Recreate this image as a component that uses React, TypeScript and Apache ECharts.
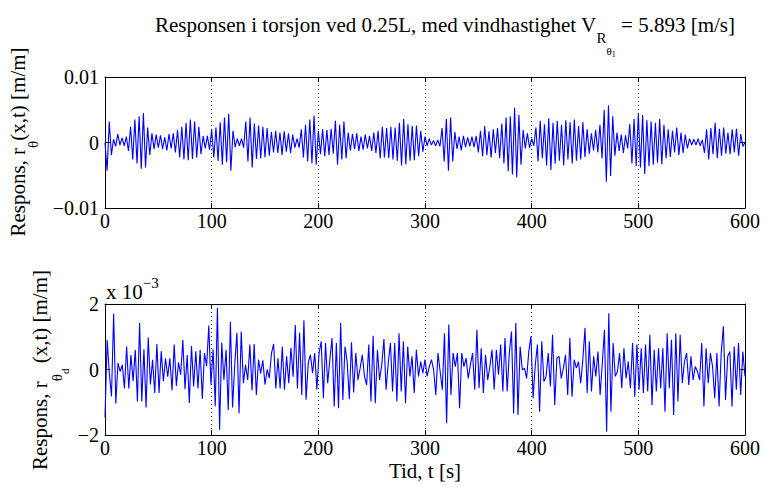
import React, { useEffect, useRef } from 'react';
import * as echarts from 'echarts';

// Time axis (s)
const duration = 600;
const xTickInterval = 100;

// Top panel: torsional response r_theta(x,t), values in 10^-3 m/m, read peak by peak (step ~2 s)
const topResponse = [
  0, -4.3, 3.2, -1.9,
  0.5, -0.6, 1.3, -0.4, 0.7, -0.5, 0.9,
  -1.3, 2.4, -2.6, 3.5, -3.2, 4.0, -4.0, 4.5, -3.8, 2.3,
  -1.9, 1.4, -1.0, 1.2, -0.8, 1.1, -1.0, 0.8, -1.2, 1.3, -0.9, 1.4, -1.5,
  1.9, -2.3, 2.4, -2.6, 3.0, -2.7, 3.5, -2.5, 3.2, -2.3, 2.4, -1.8,
  1.0, -0.9, 1.0, -1.1,
  1.9, -2.3, 2.3, -2.8, 3.1, -3.4, 3.8, -3.0, 4.4, -4.3, 1.8,
  -0.7, 0.6, -0.5, 0.6, -0.8,
  3.2, -2.9, 3.8, -3.8, 2.9, -2.5, 2.6, -2.4, 2.4, -2.3, 2.2, -2.0, 1.6,
  -1.5, 1.8, -1.6, 1.5, -1.9, 1.7, -1.4, 1.4, -1.6, 1.2, -0.8, 0.6, -0.8,
  2.0, -2.3, 2.7, -2.9, 3.5, -3.2, 4.1, -3.4, 1.8,
  -1.8, 2.0, -2.1, 1.9, -1.9, 2.1, -1.7,
  3.3, -3.4, 2.7, -2.6, 3.2, -2.4, 1.5,
  -1.2, 1.3, -1.0, 1.4, -1.3, 0.9, -1.1, 1.2, -0.9, 1.0, -1.3, 1.5, -1.6,
  1.8, -2.4, 2.4, -2.3, 2.2, -2.4, 2.4, -2.6, 2.3, -2.8, 3.0, -3.5, 3.6, -3.3, 2.8, -2.8, 2.5, -2.7, 2.6, -2.1, 1.8, -1.4, 0.9,
  -0.5, 0.6, -0.4, 0.3, -0.5, 0.4, -0.6,
  2.2, -2.9, 3.6, -4.3, 3.8, -2.9, 1.6,
  -1.0, 0.9, -1.2, 1.0, -0.7, 0.8, -0.6, 0.9, -0.7, 1.0,
  -1.5, 1.8, -2.1, 2.5, -1.9, 1.7, -2.3, 2.0, -1.6, 2.2,
  -2.4, 2.9, -3.2, 3.8, -4.4, 4.0, -4.9, 5.3, -5.3, 4.2, -3.4, 1.9,
  -0.9, 1.4, -0.8, 0.6, -0.5,
  2.3, -2.9, 3.3, -2.4, 2.8, -3.5, 3.7, -4.2, 3.0, -3.2, 3.3, -2.8, 2.7, -3.5, 3.4, -2.6, 3.1, -3.2, 3.5, -2.8, 2.5, -2.6, 3.1, -2.2, 2.0, -1.7, 1.4,
  -1.2, 1.9, -1.5,
  2.7, -2.4, 5.0, -6.0, 5.7, -5.1, 4.0, -2.0,
  1.5, -1.3, 1.2, -1.6, 1.1, -0.9,
  2.8, -3.2, 3.6, -3.6, 4.4, -3.8, 4.2, -4.8, 3.4, -3.6, 3.2, -3.4, 3.0, -3.1, 3.6, -3.3, 2.7, -2.4, 2.0,
  -2.2, 1.8, -1.5, 2.3, -1.9, 1.5, -1.6, 1.2, -0.9, 0.6, -0.4,
  0.5, -0.4, 0.6, -0.5, 0.4,
  -1.6, 2.0, -2.6, 2.2, -1.8, 3.0, -2.4, 2.1, -2.0, 2.3, -1.7, 1.5, -1.8, 2.0, -1.5, 2.1, -2.0, 1.3, -0.6, 0.0,
];
const topUnit = 1e-3;

// Bottom panel: r_theta_d(x,t), values in 10^-3 m/m (axis shown as x 10^-3)
const bottomResponse = [
  -1.46, 0.90, -0.12, -0.82, 1.70, -1.04, 0.20, -0.06, 0.14,
  -0.58, 0.70, -0.58, 0.44, -0.36, 0.60, -0.98, 1.42, -0.98,
  0.62, -1.16, 0.98, -0.46, 0.30, -0.72, 0.78, -0.72, 0.56,
  -0.36, 0.34, -0.22, 0.34, -0.64, 0.76, -0.50, 0.22, -0.16,
  0.90, -0.60, 0.44, -1.02, 0.72, -0.52, 0.56, -0.58, 0.60,
  -0.90, 0.50, 0.10, 1.34, -0.46, 0.62, -1.12, 1.88, -1.84,
  0.82, -0.32, 0.60, -1.24, 1.46, -1.16, 0.14, 1.12, -1.34,
  1.16, -0.42, 0.14, -0.32, 0.76, -0.64, 0.78, -0.78, 0.30,
  -0.12, 0.28, -0.46, 0.00, -0.26, 0.50, 0.78, -0.58, 0.34,
  -0.58, 0.70, -0.62, 0.40, -0.42, 0.66, -0.22, 1.36, -0.58,
  1.12, -0.78, 1.50, -0.92, 0.20,
  0.45, -0.11, 0.50, -0.62, 0.50, 0.86, -0.88, 0.81, -0.42, 0.30,
  0.96, -1.13, 0.81, -1.18, 1.42, -0.93, 0.70, 0.24, -0.91, 0.83,
  -0.70, 0.50, -0.32, 0.04, 0.45, -0.21, -0.47, 0.76, -0.98, 1.03,
  -1.03, 0.60, -0.32, 0.14, 0.93, -0.62, 0.19, 0.81, -0.67, 0.81,
  -0.98, 1.11, -0.67, 0.86, -1.03, 0.70, -0.21, 0.40, -0.72, 0.60,
  -0.21, 0.24, -0.11, 0.30, -0.21, 0.09, 0.30, -0.01, -0.78, 0.50,
  -0.06, -0.62, 1.11, -1.64, 1.37, -0.78, 0.50, 0.09, 0.50, -1.18,
  0.50, 0.09, 0.35, -0.27, 0.14, 0.50, -0.62, 1.21, -0.57, 0.65,
  -0.72, 0.45, -0.32, 0.09, 0.60, -0.62, 0.60, -0.16, 0.76, -0.67,
  0.96, -0.67, 0.50, 1.16, -1.34, 1.42, -1.39, 0.70, -0.01, 0.04,
  -0.27, 0.55,
  1.01, -0.88, 0.14, 0.76, -1.29, 0.86, -0.37, -0.21, 0.50, -0.52,
  1.06, -1.08, 0.35, 0.40, -0.27, 0.04, 0.45, -0.78, 0.96, -0.83,
  0.30, 0.04, 0.24, -0.42, 0.30, 1.27, -0.72, 0.86, -0.67, 0.40,
  -0.21, 0.55, -0.78, 0.19, 1.21, -1.90, 1.72, -1.29, 0.81, -0.21,
  -0.06, 0.50, -0.57, 0.65, -0.27, 0.24, -0.57, 0.81, -0.83, 0.76,
  -0.62, 0.65, -0.72, 0.76, -0.67, 1.06, -1.08, 0.60, -0.67, 0.65,
  -0.57, 0.65, -1.29, 1.11, -0.57, 0.91, -1.39, 1.11, -0.98, 1.06,
  -0.42, 0.24, 0.50, -0.47, 0.40, -0.32, 0.09, -0.06, -0.32, 0.81,
  -1.13, 0.65, -0.42, 0.50, 0.09, -0.88, 0.50, -1.13, 0.50, 1.32,
  -0.93, 0.40, 0.55, -1.13, 0.70, -0.62, 0.81, -0.78, 0.55, -0.21,
];

const topYMin = -0.01;
const topYMax = 0.01;
const topYInterval = 0.01;
const bottomYMin = -2;
const bottomYMax = 2;
const bottomYInterval = 2;

// Text pieces (text, font size, vertical offset for sub/superscripts)
type Piece = { text: string; size: number; dy: number };
const titlePieces: Piece[] = [
  { text: 'Responsen i torsjon ved 0.25L, med vindhastighet V', size: 21, dy: 0 },
  { text: 'R', size: 15, dy: 13 },
  { text: '\u03b8', size: 11, dy: 26 },
  { text: '1', size: 8, dy: 29 },
  { text: ' = 5.893 [m/s]', size: 21, dy: 0 },
];
const topYLabelPieces: Piece[] = [
  { text: 'Respons, r', size: 21, dy: 0 },
  { text: '\u03b8', size: 15, dy: 15 },
  { text: '(x,t) [m/m]', size: 21, dy: 0 },
];
const bottomYLabelPieces: Piece[] = [
  { text: 'Respons, r', size: 21, dy: 0 },
  { text: '\u03b8', size: 15, dy: 17 },
  { text: 'd', size: 11, dy: 25 },
  { text: ' (x,t) [m/m]', size: 21, dy: 0 },
];
const exponentPieces: Piece[] = [
  { text: 'x 10', size: 21, dy: 0 },
  { text: '\u22123', size: 15, dy: -9 },
];
const xLabelText = 'Tid, t [s]';

const serif = '"Liberation Serif", "Times New Roman", serif';
const tickFont = 20;

let measureCtx: CanvasRenderingContext2D | null = null;
const textWidth = (text: string, size: number) => {
  if (!measureCtx) measureCtx = document.createElement('canvas').getContext('2d');
  if (!measureCtx) return text.length * size * 0.5;
  measureCtx.font = `${size}px ${serif}`;
  return measureCtx.measureText(text).width;
};
const piecesWidth = (pieces: Piece[]) => pieces.reduce((s, p) => s + textWidth(p.text, p.size), 0);
const pieceTexts = (pieces: Piece[], startX: number, baseY: number) => {
  let x = startX;
  return pieces.map((p) => {
    const el = {
      type: 'text',
      x,
      y: baseY + p.dy,
      style: {
        text: p.text,
        fontFamily: serif,
        fontSize: p.size,
        fill: '#000',
        align: 'left',
        verticalAlign: 'middle',
      },
    };
    x += textWidth(p.text, p.size);
    return el;
  });
};

const fmtTick = (v: number) => {
  if (Math.abs(v) < 1e-12) return '0';
  const s = String(Number(Math.abs(v).toPrecision(6)));
  return v < 0 ? '\u2212' + s : s;
};

function App() {
  const ref = useRef<HTMLDivElement>(null);

  useEffect(() => {
    if (!ref.current) return;
    const chart = echarts.init(ref.current, undefined, { renderer: 'svg' });

    const topData = topResponse.map((v, i) => [
      (i * duration) / (topResponse.length - 1),
      v * topUnit,
    ]);
    const bottomData = bottomResponse.map((v, i) => [
      (i * duration) / (bottomResponse.length - 1),
      v,
    ]);

    const frameLine = { show: true, onZero: false, lineStyle: { color: '#000', width: 1 } };
    const tick = { show: true, inside: true, length: 5, lineStyle: { color: '#000' } };
    const xMain = (gridIndex: number) => ({
      type: 'value' as const,
      gridIndex,
      position: 'bottom' as const,
      min: 0,
      max: duration,
      interval: xTickInterval,
      axisLine: frameLine,
      axisTick: tick,
      axisLabel: { color: '#000', fontFamily: serif, fontSize: tickFont, margin: 4, lineHeight: 18 },
      splitLine: { show: true, lineStyle: { color: '#333', type: [1, 3] as any, width: 1 } },
    });
    const xTop = (gridIndex: number) => ({
      type: 'value' as const,
      gridIndex,
      position: 'top' as const,
      min: 0,
      max: duration,
      interval: xTickInterval,
      axisLine: frameLine,
      axisTick: tick,
      axisLabel: { show: false },
      splitLine: { show: false },
    });
    const yAxisOf = (gridIndex: number, position: 'left' | 'right', min: number, max: number, interval: number) => ({
      type: 'value' as const,
      gridIndex,
      position,
      min,
      max,
      interval,
      axisLine: frameLine,
      axisTick: tick,
      axisLabel:
        position === 'left'
          ? { color: '#000', fontFamily: serif, fontSize: tickFont, margin: 6, formatter: fmtTick }
          : { show: false },
      splitLine: { show: false },
    });

    const titleW = piecesWidth(titlePieces);
    const topLabelW = piecesWidth(topYLabelPieces);
    const bottomLabelW = piecesWidth(bottomYLabelPieces);

    chart.setOption({
      animation: false,
      backgroundColor: '#fff',
      grid: [
        { left: 105, top: 77, width: 640, height: 131 },
        { left: 105, top: 304, width: 640, height: 131 },
      ],
      xAxis: [xMain(0), xTop(0), xMain(1), xTop(1)],
      yAxis: [
        yAxisOf(0, 'left', topYMin, topYMax, topYInterval),
        yAxisOf(0, 'right', topYMin, topYMax, topYInterval),
        yAxisOf(1, 'left', bottomYMin, bottomYMax, bottomYInterval),
        yAxisOf(1, 'right', bottomYMin, bottomYMax, bottomYInterval),
      ],
      series: [
        {
          type: 'line',
          xAxisIndex: 0,
          yAxisIndex: 0,
          data: topData,
          showSymbol: false,
          symbol: 'none',
          lineStyle: { color: '#0000ff', width: 1.1 },
        },
        {
          type: 'line',
          xAxisIndex: 2,
          yAxisIndex: 2,
          data: bottomData,
          showSymbol: false,
          symbol: 'none',
          lineStyle: { color: '#0000ff', width: 1.1 },
        },
      ],
      graphic: [
        {
          type: 'group',
          children: pieceTexts(titlePieces, 445 - titleW / 2, 25),
        },
        {
          type: 'group',
          x: 18,
          y: 142,
          rotation: Math.PI / 2,
          children: pieceTexts(topYLabelPieces, -topLabelW / 2, 0),
        },
        {
          type: 'group',
          x: 40,
          y: 370,
          rotation: Math.PI / 2,
          children: pieceTexts(bottomYLabelPieces, -bottomLabelW / 2, 0),
        },
        {
          type: 'text',
          x: 425,
          y: 471,
          style: {
            text: xLabelText,
            fontFamily: serif,
            fontSize: 21,
            fill: '#000',
            align: 'center',
            verticalAlign: 'middle',
          },
        },
        {
          type: 'group',
          children: pieceTexts(exponentPieces, 106, 292),
        },
      ],
    });

    return () => chart.dispose();
  }, []);

  return (
    <div
      ref={ref}
      style={{ position: 'absolute', left: 0, top: 0, width: 765, height: 487 }}
    />
  );
}

export default App;
